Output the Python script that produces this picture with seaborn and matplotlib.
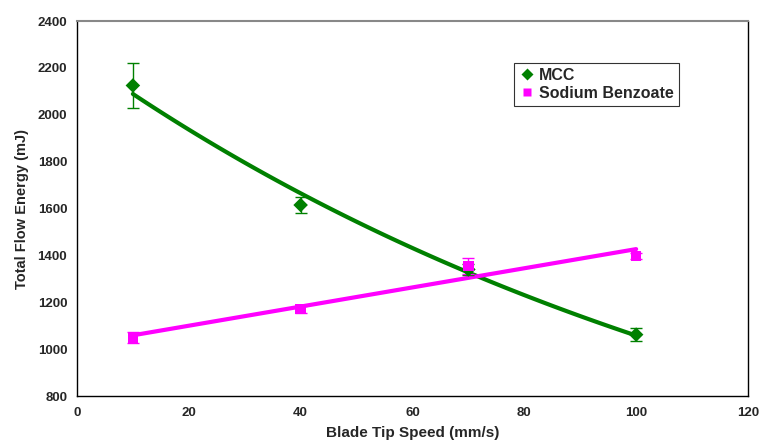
import numpy as np
import pandas as pd
import seaborn as sns
import matplotlib.pyplot as plt

# data
speed = [10, 40, 70, 100]
mcc = [2125, 1615, 1340, 1062]
mcc_err = [95, 35, 25, 28]
sb = [1050, 1170, 1355, 1397]
sb_err = [25, 15, 35, 12]

GREEN = "#008000"
MAGENTA = "#FF00FF"

sns.set_theme(style="white")
plt.rcParams["font.family"] = ["Liberation Sans", "DejaVu Sans"]
plt.rcParams["font.weight"] = "bold"

fig = plt.figure(figsize=(7.62, 4.42), dpi=100)
ax = fig.add_axes([0.101, 0.104, 0.8806, 0.8484])

df = pd.DataFrame({
    "speed": speed * 2,
    "energy": mcc + sb,
    "material": ["MCC"] * 4 + ["Sodium Benzoate"] * 4,
})

# trend lines: exponential for MCC, linear for sodium benzoate
xs = np.linspace(10, 100, 100)
b, a = np.polyfit(speed, np.log(mcc), 1)
m, c = np.polyfit(speed, sb, 1)
trend = pd.DataFrame({
    "speed": np.concatenate([xs, xs]),
    "energy": np.concatenate([np.exp(a + b * xs), m * xs + c]),
    "material": ["MCC"] * len(xs) + ["Sodium Benzoate"] * len(xs),
})

sns.lineplot(data=trend, x="speed", y="energy", hue="material",
             palette=[GREEN, MAGENTA], linewidth=3, legend=False, ax=ax, zorder=2)

ax.errorbar(speed, mcc, yerr=mcc_err, fmt="none", ecolor=GREEN, elinewidth=1,
            capsize=4, capthick=1, zorder=3)
ax.errorbar(speed, sb, yerr=sb_err, fmt="none", ecolor=MAGENTA, elinewidth=1,
            capsize=4, capthick=1, zorder=3)

sns.scatterplot(data=df, x="speed", y="energy", hue="material", style="material",
                markers=["D", "s"], palette=[GREEN, MAGENTA], s=55,
                edgecolor="none", ax=ax, zorder=4)

ax.set_xlim(0, 120)
ax.set_ylim(800, 2400)
ax.set_xticks(range(0, 121, 20))
ax.set_yticks(range(800, 2401, 200))
ax.set_xlabel("Blade Tip Speed (mm/s)", fontsize=11, fontweight="bold", labelpad=5)
ax.set_ylabel("Total Flow Energy (mJ)", fontsize=10.5, fontweight="bold", labelpad=6)
ax.tick_params(axis="both", labelsize=9.5, direction="out", length=4, width=1,
               color="black", pad=3)
ax.tick_params(axis="x", direction="inout", length=6, pad=5)
for lab in ax.get_xticklabels() + ax.get_yticklabels():
    lab.set_fontweight("bold")

for side in ["left", "bottom", "right"]:
    ax.spines[side].set_color("black")
    ax.spines[side].set_linewidth(1)
ax.spines["top"].set_color("#888888")
ax.spines["top"].set_linewidth(1.5)

leg = ax.legend(loc="upper left", bbox_to_anchor=(0.652, 0.888), frameon=True,
                fancybox=False, edgecolor="black", fontsize=11.5, handletextpad=0.25,
                borderpad=0.3, labelspacing=0.2, handlelength=1.0, markerscale=0.85,
                borderaxespad=0)
leg.get_frame().set_linewidth(0.8)
for t in leg.get_texts():
    t.set_fontweight("bold")

fig.savefig("out.png", dpi=100)
